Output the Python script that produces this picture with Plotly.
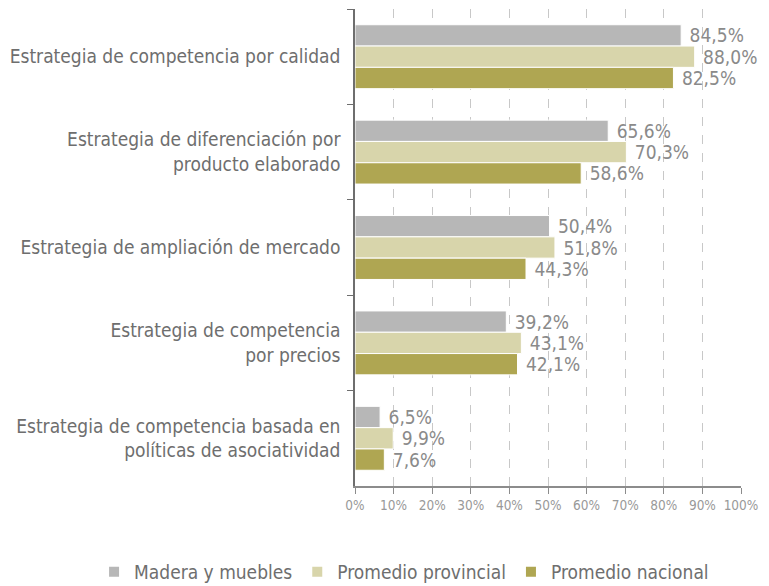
import plotly.graph_objects as go

categorias = [
    "Estrategia de competencia por calidad",
    "Estrategia de diferenciación por<br>producto elaborado",
    "Estrategia de ampliación de mercado",
    "Estrategia de competencia<br>por precios",
    "Estrategia de competencia basada en<br>políticas de asociatividad",
]
madera = [84.5, 65.6, 50.4, 39.2, 6.5]
provincial = [88.0, 70.3, 51.8, 43.1, 9.9]
nacional = [82.5, 58.6, 44.3, 42.1, 7.6]

series = [
    ("Madera y muebles", madera, "#b7b7b7"),
    ("Promedio provincial", provincial, "#d8d5ab"),
    ("Promedio nacional", nacional, "#afa652"),
]

FONT = "DejaVu Sans Condensed, Liberation Sans Narrow, sans-serif"

fig = go.Figure()
for nombre, valores, color in series:
    # espacio delante para separar la etiqueta de la barra
    etiquetas = [" " + f"{v:.1f}%".replace(".", ",") for v in valores]
    fig.add_trace(go.Bar(
        y=categorias, x=valores, name=nombre, orientation="h",
        marker=dict(color=color, line=dict(color="white", width=1)),
        text=etiquetas, textposition="outside", constraintext="none",
        textfont=dict(size=19, color="#8a8a8a", family=FONT),
        cliponaxis=False,
    ))

# la página tiene 8px de margen en el body, se compensa con el tamaño
fig.update_layout(
    barmode="group",
    bargap=0.33,
    bargroupgap=0,
    width=761, height=578,
    margin=dict(l=347, r=28, t=1, b=100, autoexpand=False),
    paper_bgcolor="white",
    plot_bgcolor="white",
    font=dict(family=FONT, color="#6e6e6e"),
    legend=dict(
        orientation="h", x=-0.676, xanchor="left",
        y=-0.18, yanchor="middle",
        font=dict(size=19, color="#6e6e6e", family=FONT),
        traceorder="normal", itemsizing="constant",
    ),
    showlegend=True,
)

fig.update_xaxes(
    range=[0, 100], dtick=10, ticksuffix="%",
    showgrid=True, gridcolor="#c8c8c8", griddash="dash", gridwidth=1,
    showline=True, linecolor="#8c8c8c", linewidth=1.5,
    ticks="outside", ticklen=6, tickcolor="#8c8c8c",
    tickfont=dict(size=13.5, color="#999999", family=FONT),
    zeroline=False, automargin=False,
)
fig.update_yaxes(
    autorange="reversed",
    showline=True, linecolor="#6e6e6e", linewidth=1.5,
    ticks="outside", ticklen=6, tickcolor="#6e6e6e", tickson="boundaries",
    tickfont=dict(size=19, color="#6e6e6e", family=FONT),
    ticklabelstandoff=9, automargin=False,
)

fig.write_html("out.html")
